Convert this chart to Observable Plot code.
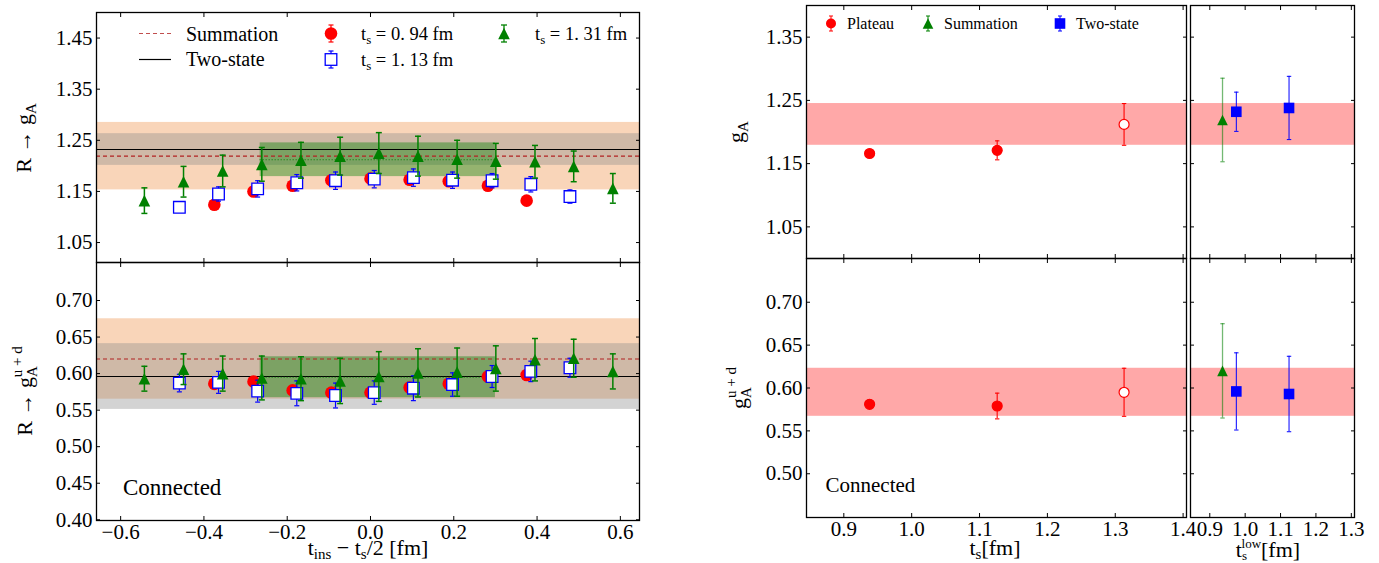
<!DOCTYPE html>
<html><head><meta charset="utf-8">
<script src="https://cdn.jsdelivr.net/npm/d3@7"></script>
<script src="https://cdn.jsdelivr.net/npm/@observablehq/plot@0.6"></script>
<style>
html,body{margin:0;padding:0;background:#fff;}
#root{position:relative;width:1379px;height:563px;overflow:hidden;background:#fff;font-family:"Liberation Serif","DejaVu Serif",serif;color:#000;}
.panel{position:absolute;}
.panel svg{overflow:visible;max-width:none;}
#ov{position:absolute;left:0;top:0;pointer-events:none;}
</style></head>
<body><div id="root"></div>
<script>
// ---------------- data ----------------
// left panels: x = t_ins - t_s/2 [fm]
const tins094 = [-0.375,-0.281,-0.187,-0.094,0.000,0.094,0.188,0.282,0.375];
const tins113 = [-0.459,-0.365,-0.271,-0.177,-0.084,0.009,0.103,0.197,0.292,0.385,0.479];
const tins131 = [-0.543,-0.449,-0.355,-0.261,-0.167,-0.073,0.020,0.114,0.208,0.301,0.395,0.488,0.582];
// R -> g_A
const gA094 = [1.124,1.150,1.161,1.172,1.175,1.173,1.170,1.161,1.132];
const gA094Err = [0.005,0.005,0.005,0.005,0.006,0.006,0.005,0.005,0.005];
const gA113 = [1.119,1.145,1.155,1.167,1.171,1.174,1.177,1.172,1.171,1.164,1.140];
const gA113Err = [0.010,0.014,0.016,0.016,0.017,0.017,0.017,0.016,0.014,0.015,0.013];
const gA131 = [1.132,1.169,1.190,1.203,1.211,1.219,1.225,1.219,1.213,1.209,1.208,1.199,1.156];
const gA131Err = [0.025,0.030,0.031,0.033,0.035,0.037,0.040,0.039,0.037,0.035,0.032,0.030,0.029];
// R -> g_A^{u+d}
const ud094 = [0.586,0.589,0.577,0.574,0.574,0.581,0.586,0.596,0.598];
const ud094Err = [0.006,0.006,0.006,0.006,0.006,0.006,0.006,0.006,0.006];
const ud113 = [0.587,0.588,0.576,0.573,0.570,0.574,0.580,0.585,0.596,0.603,0.608];
const ud113Err = [0.012,0.015,0.015,0.017,0.017,0.016,0.017,0.016,0.015,0.014,0.013];
const ud131 = [0.593,0.606,0.600,0.594,0.593,0.590,0.596,0.601,0.602,0.607,0.619,0.621,0.603];
const ud131Err = [0.017,0.021,0.024,0.030,0.030,0.031,0.034,0.033,0.033,0.031,0.029,0.026,0.024];
const plateauRange = [-0.265, 0.300];

// right panels
const tsPlateau = [0.938, 1.126, 1.313];
const plateauFilled = [true, true, false];
const gAPlateau = [1.166, 1.171, 1.212];
const gAPlateauErr = [0.004, 0.015, 0.033];
const udPlateau = [0.581, 0.579, 0.595];
const udPlateauErr = [0.005, 0.015, 0.028];
const tlowSum = [0.936];
const gASum = [1.219], gASumErr = [0.066];
const udSum = [0.620], udSumErr = [0.055];
const tlow2st = [0.975, 1.124];
const gA2st = [1.232, 1.238], gA2stErr = [0.031, 0.050];
const ud2st = [0.596, 0.593], ud2stErr = [0.045, 0.044];

// ticks
const xTicksL = [-0.6,-0.4,-0.2,0.0,0.2,0.4,0.6];
const yTicksLT = [1.05,1.15,1.25,1.35,1.45];
const yTicksLB = [0.40,0.45,0.50,0.55,0.60,0.65,0.70];
const xTicksR = [0.9,1.0,1.1,1.2,1.3,1.4];
const xTicksS = [0.9,1.0,1.1,1.2,1.3];
const yTicksRT = [1.05,1.15,1.25,1.35];
const yTicksRB = [0.50,0.55,0.60,0.65,0.70];

// ---------------- helpers ----------------
const root = document.getElementById("root");
const fmt1 = d3.format(".1f"), fmt2 = d3.format(".2f");
const FONT = '"Liberation Serif", "DejaVu Serif", serif';
const cap = (w) => ({draw(ctx){ctx.moveTo(-w,0);ctx.lineTo(w,0);}});
const sq = (h) => ({draw(ctx){ctx.moveTo(-h,-h);ctx.lineTo(h,-h);ctx.lineTo(h,h);ctx.lineTo(-h,h);ctx.closePath();}});
const tri = (h) => ({draw(ctx){ctx.moveTo(0,-h);ctx.lineTo(h,h);ctx.lineTo(-h,h);ctx.closePath();}});
const pts = (xs, ys, es) => xs.map((x,i)=>({x, y: ys[i], lo: ys[i]-es[i], hi: ys[i]+es[i]}));

function errMarks(d, color, {sw=1.2, cw=2.5, op=1}={}) {
  return [
    Plot.ruleX(d, {x:"x", y1:"lo", y2:"hi", stroke:color, strokeWidth:sw, strokeOpacity:op}),
    Plot.dot(d, {x:"x", y:"lo", symbol:cap(cw), fill:"none", stroke:color, strokeWidth:sw, strokeOpacity:op}),
    Plot.dot(d, {x:"x", y:"hi", symbol:cap(cw), fill:"none", stroke:color, strokeWidth:sw, strokeOpacity:op})
  ];
}
function band(x1, x2, c, e, fill, op=1) {
  return Plot.rect([{x1, x2, y1:c-e, y2:c+e}], {x1:"x1", x2:"x2", y1:"y1", y2:"y2", fill, fillOpacity:op});
}
function panel(o) {
  const marks = [
    ...o.marks,
    Plot.frame({stroke:"#000", strokeWidth:1.3}),
    Plot.axisX(o.xTicks, {anchor:"bottom", tickSize:-4, tickPadding:8, tickFormat: o.xLab ? fmt1 : () => "", label:null}),
    Plot.axisX(o.xTicks, {anchor:"top", tickSize:-4, tickFormat: () => "", label:null}),
    Plot.axisY(o.yTicks, {anchor:"left", tickSize:-4, tickPadding:8, tickFormat: o.yLab ? fmt2 : () => "", label:null}),
    Plot.axisY(o.yTicks, {anchor:"right", tickSize:-4, tickFormat: () => "", label:null})
  ];
  const svg = Plot.plot({
    width:o.width, height:o.height,
    marginTop:o.mt, marginRight:o.mr, marginBottom:o.mb, marginLeft:o.ml,
    x:{domain:o.xd}, y:{domain:o.yd},
    marks
  });
  svg.setAttribute("font-family", FONT);
  svg.setAttribute("font-size", "21");
  svg.style.fontFamily = FONT;
  svg.style.fontSize = "21px";
  svg.style.background = "transparent";
  svg.style.overflow = "visible";
  svg.querySelectorAll("text").forEach(t => { t.style.fontFamily = FONT; t.style.fontSize = "21px"; });
  const div = document.createElement("div");
  div.className = "panel";
  div.style.left = o.left + "px"; div.style.top = o.top + "px"; div.style.width = o.width + "px";
  div.appendChild(svg);
  root.appendChild(div);
}

// colours
const ORANGE = "#f9d5b9", GRAY = "#8c8c8c", GRAYOP = 0.38, GREEN = "#008000", DRED = "#b22222", PINK = "#ffa8a8";

// ---------------- left panels ----------------
const xdL = [-0.658, 0.646];
function leftMarks(v094, e094, v113, e113, v131, e131, sumV, sumE, tsV, tsE, platV, platE) {
  return [
    band(xdL[0], xdL[1], sumV, sumE, ORANGE),
    band(xdL[0], xdL[1], tsV, tsE, GRAY, GRAYOP),
    band(plateauRange[0], plateauRange[1], platV, platE, GREEN, 0.4),
    Plot.ruleY([tsV], {stroke:"#000", strokeWidth:1.2}),
    Plot.ruleY([sumV], {stroke:DRED, strokeWidth:1.2, strokeDasharray:"4,3"}),
    Plot.ruleY([platV], {y:d=>d, x1:()=>plateauRange[0], x2:()=>plateauRange[1], stroke:GREEN, strokeWidth:1, strokeDasharray:"1,2"}),
    ...errMarks(pts(tins094, v094, e094), "red", {sw:1.2, cw:2.5}),
    Plot.dot(pts(tins094, v094, e094), {x:"x", y:"y", r:6.3, fill:"red"}),
    ...errMarks(pts(tins113, v113, e113), "blue", {sw:1.2, cw:2.5}),
    Plot.dot(pts(tins113, v113, e113), {x:"x", y:"y", symbol:sq(5.8), fill:"white", stroke:"blue", strokeWidth:1.3}),
    ...errMarks(pts(tins131, v131, e131), GREEN, {sw:1.5, cw:3}),
    Plot.dot(pts(tins131, v131, e131), {x:"x", y:"y", symbol:tri(5.8), fill:GREEN})
  ];
}
panel({left:0, top:0, width:650, height:263, mt:12, mr:11, mb:1, ml:96,
  xd:xdL, yd:[1.011, 1.5], xTicks:xTicksL, yTicks:yTicksLT, xLab:false, yLab:true,
  marks: leftMarks(gA094, gA094Err, gA113, gA113Err, gA131, gA131Err, gASum[0], gASumErr[0], gA2st[0], gA2stErr[0], gAPlateau[2], gAPlateauErr[2])});
panel({left:0, top:262, width:650, height:301, mt:0, mr:11, mb:43, ml:96,
  xd:xdL, yd:[0.399, 0.752], xTicks:xTicksL, yTicks:yTicksLB, xLab:true, yLab:true,
  marks: leftMarks(ud094, ud094Err, ud113, ud113Err, ud131, ud131Err, udSum[0], udSumErr[0], ud2st[0], ud2stErr[0], udPlateau[2], udPlateauErr[2])});

// ---------------- right panels ----------------
const xdR = [0.845, 1.405], xdS = [0.8455, 1.309];
function mainMarks(v, e, finV, finE) {
  const d = pts(tsPlateau, v, e).map((p,i)=>({...p, filled: plateauFilled[i]}));
  return [
    band(xdR[0], xdR[1], finV, finE, PINK),
    ...errMarks(d, "red", {sw:1.1, cw:2.2}),
    Plot.dot(d, {x:"x", y:"y", r:5, fill:p=>p.filled ? "red" : "white", stroke:"red", strokeWidth:1.2})
  ];
}
function subMarks(sv, se, tv, te, finV, finE) {
  const ds = pts(tlowSum, sv, se), dt = pts(tlow2st, tv, te);
  return [
    band(xdS[0], xdS[1], finV, finE, PINK),
    ...errMarks(ds, GREEN, {sw:1.3, cw:2.2, op:0.55}),
    Plot.dot(ds, {x:"x", y:"y", symbol:tri(5.3), fill:GREEN}),
    ...errMarks(dt, "blue", {sw:1.0, cw:2.2}),
    Plot.dot(dt, {x:"x", y:"y", symbol:sq(5.3), fill:"blue"})
  ];
}
panel({left:700, top:0, width:486, height:258, mt:5, mr:0, mb:0, ml:106,
  xd:xdR, yd:[1.0, 1.4], xTicks:xTicksR, yTicks:yTicksRT, xLab:false, yLab:true,
  marks: mainMarks(gAPlateau, gAPlateauErr, gAPlateau[2], gAPlateauErr[2])});
panel({left:700, top:258, width:486, height:305, mt:0, mr:0, mb:46, ml:106,
  xd:xdR, yd:[0.449, 0.751], xTicks:xTicksR, yTicks:yTicksRB, xLab:true, yLab:true,
  marks: mainMarks(udPlateau, udPlateauErr, udPlateau[2], udPlateauErr[2])});
panel({left:1190, top:0, width:189, height:258, mt:5, mr:25, mb:0, ml:0,
  xd:xdS, yd:[1.0, 1.4], xTicks:xTicksS, yTicks:yTicksRT, xLab:false, yLab:false,
  marks: subMarks(gASum, gASumErr, gA2st, gA2stErr, gAPlateau[2], gAPlateauErr[2])});
panel({left:1190, top:258, width:189, height:305, mt:0, mr:25, mb:46, ml:0,
  xd:xdS, yd:[0.449, 0.751], xTicks:xTicksS, yTicks:yTicksRB, xLab:true, yLab:false,
  marks: subMarks(udSum, udSumErr, ud2st, ud2stErr, udPlateau[2], udPlateauErr[2])});

// ---------------- overlay: legends and labels ----------------
const NS = "http://www.w3.org/2000/svg";
const ov = document.createElementNS(NS, "svg");
ov.setAttribute("id", "ov"); ov.setAttribute("width", 1379); ov.setAttribute("height", 563);
ov.setAttribute("font-family", FONT);
ov.innerHTML = `
<g>
  <line x1="139" x2="171" y1="33.5" y2="33.5" stroke="${DRED}" stroke-width="1.2" stroke-dasharray="4,3" opacity="0.8"/>
  <text x="186" y="40.5" font-size="20">Summation</text>
  <line x1="139" x2="171" y1="59.5" y2="59.5" stroke="#000" stroke-width="1.2"/>
  <text x="186" y="66" font-size="20">Two-state</text>

  <line x1="331" x2="331" y1="25" y2="42" stroke="red" stroke-width="1.2"/>
  <line x1="328.5" x2="333.5" y1="25" y2="25" stroke="red" stroke-width="1.2"/>
  <line x1="328.5" x2="333.5" y1="42" y2="42" stroke="red" stroke-width="1.2"/>
  <circle cx="331" cy="33.5" r="6.3" fill="red"/>
  <text x="361" y="40" font-size="18.5">t<tspan dy="4" font-size="13">s</tspan><tspan dy="-4"> = 0. 94 fm</tspan></text>

  <line x1="331" x2="331" y1="51" y2="68" stroke="blue" stroke-width="1.2"/>
  <line x1="328.5" x2="333.5" y1="51" y2="51" stroke="blue" stroke-width="1.2"/>
  <line x1="328.5" x2="333.5" y1="68" y2="68" stroke="blue" stroke-width="1.2"/>
  <rect x="325.2" y="53.7" width="11.6" height="11.6" fill="white" stroke="blue" stroke-width="1.3"/>
  <text x="361" y="66" font-size="18.5">t<tspan dy="4" font-size="13">s</tspan><tspan dy="-4"> = 1. 13 fm</tspan></text>

  <line x1="504" x2="504" y1="25" y2="42" stroke="${GREEN}" stroke-width="1.3"/>
  <line x1="501" x2="507" y1="25" y2="25" stroke="${GREEN}" stroke-width="1.3"/>
  <line x1="501" x2="507" y1="42" y2="42" stroke="${GREEN}" stroke-width="1.3"/>
  <path d="M504,27.7L509.8,39.3L498.2,39.3Z" fill="${GREEN}"/>
  <text x="535" y="40" font-size="18.5">t<tspan dy="4" font-size="13">s</tspan><tspan dy="-4"> = 1. 31 fm</tspan></text>
</g>
<g font-size="16">
  <line x1="831" x2="831" y1="16" y2="31" stroke="red" stroke-width="1"/>
  <line x1="829" x2="833" y1="16" y2="16" stroke="red"/><line x1="829" x2="833" y1="31" y2="31" stroke="red"/>
  <circle cx="831" cy="23.5" r="5" fill="red"/>
  <text x="847" y="28.5">Plateau</text>
  <line x1="928" x2="928" y1="16" y2="31" stroke="${GREEN}" stroke-width="1"/>
  <line x1="926" x2="930" y1="16" y2="16" stroke="${GREEN}"/><line x1="926" x2="930" y1="31" y2="31" stroke="${GREEN}"/>
  <path d="M928,18.2L933.3,28.8L922.7,28.8Z" fill="${GREEN}"/>
  <text x="944" y="28.5">Summation</text>
  <line x1="1060" x2="1060" y1="16" y2="31" stroke="blue" stroke-width="1"/>
  <line x1="1058" x2="1062" y1="16" y2="16" stroke="blue"/><line x1="1058" x2="1062" y1="31" y2="31" stroke="blue"/>
  <rect x="1054.7" y="18.2" width="10.6" height="10.6" fill="blue"/>
  <text x="1076" y="28.5">Two-state</text>
</g>
<text x="123" y="495" font-size="23">Connected</text>
<text x="825.5" y="491.5" font-size="21">Connected</text>

<text transform="translate(31,138) rotate(-90)" text-anchor="middle" font-size="22">R → g<tspan dy="5" font-size="15">A</tspan></text>
<text transform="translate(31.5,391) rotate(-90)" text-anchor="middle" font-size="22">R → g<tspan dy="5" font-size="15">A</tspan><tspan dx="-11" dy="-15" font-size="15">u + d</tspan></text>
<text transform="translate(743,132) rotate(-90)" text-anchor="middle" font-size="22">g<tspan dy="5" font-size="15">A</tspan></text>
<text transform="translate(746,388) rotate(-90)" text-anchor="middle" font-size="22">g<tspan dy="5" font-size="15">A</tspan><tspan dx="-11" dy="-15" font-size="15">u + d</tspan></text>

<text x="368" y="555" text-anchor="middle" font-size="22">t<tspan dy="4" font-size="15">ins</tspan><tspan dy="-4"> − t</tspan><tspan dy="4" font-size="15">s</tspan><tspan dy="-4">/2 [fm]</tspan></text>
<text x="995" y="555" text-anchor="middle" font-size="22">t<tspan dy="4" font-size="15">s</tspan><tspan dy="-4">[fm]</tspan></text>
<text x="1268" y="557" text-anchor="middle" font-size="22">t<tspan dy="3" font-size="13">s</tspan><tspan dx="-5.5" dy="-12" font-size="13">low</tspan><tspan dy="9">[fm]</tspan></text>
`;
root.appendChild(ov);
</script>
</body></html>
